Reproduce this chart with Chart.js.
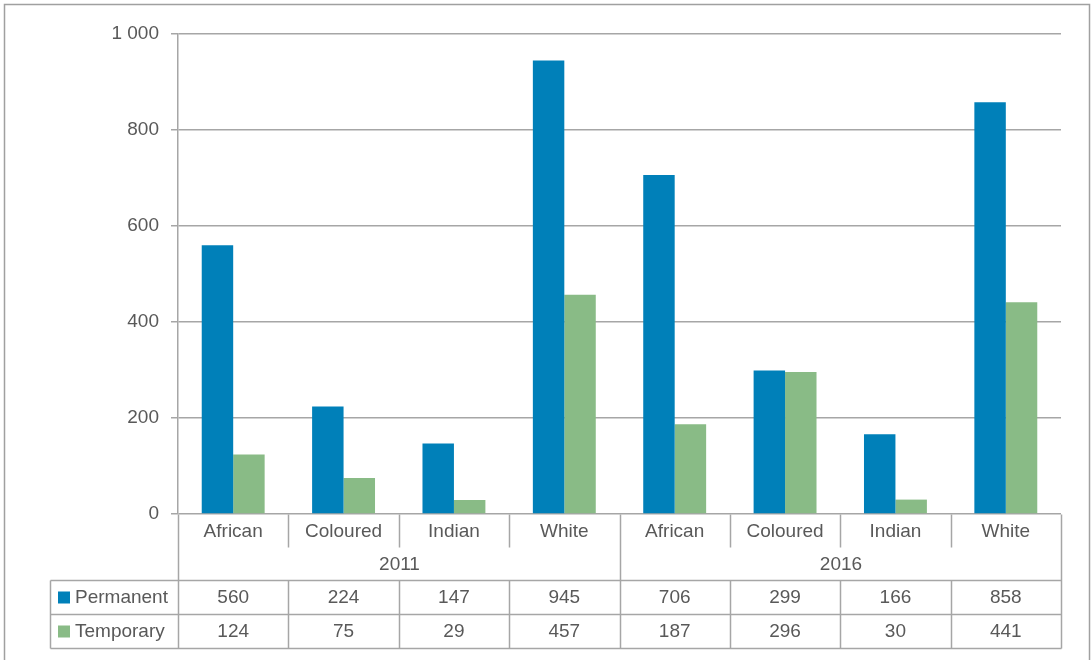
<!DOCTYPE html>
<html>
<head>
<meta charset="utf-8">
<script src="https://cdn.jsdelivr.net/npm/chart.js@4/dist/chart.umd.min.js"></script>
<style>
  body { margin: 0; background: #fff; }
  #chart { display: block; }
</style>
</head>
<body>
<canvas id="chart" width="1092" height="660"></canvas>
<script>
// ================= DATA =================
const races = ["African", "Coloured", "Indian", "White", "African", "Coloured", "Indian", "White"];
const years = ["2011", "2016"];
const permanent = [560, 224, 147, 945, 706, 299, 166, 858];
const temporary = [124, 75, 29, 457, 187, 296, 30, 441];
const yTicks = [0, 200, 400, 600, 800, 1000];

const BLUE = "#0080b9";
const GREEN = "#89bb86";
const TEXT = "#595959";
const LINE = "#a6a6a6";
const FONT = "'Liberation Sans', Arial, sans-serif";

// ================= TABLE PLUGIN =================
const dataTable = {
    id: "dataTable",
    beforeDraw(chart) {
        const ctx = chart.ctx;
        ctx.save();
        ctx.strokeStyle = "#a0a0a0";
        ctx.lineWidth = 1.5;
        ctx.strokeRect(4.5, 4.5, 1085, 700);
        ctx.restore();
    },
    afterDraw(chart) {
        const ctx = chart.ctx;
        const a = chart.chartArea;
        const n = races.length;
        const w = (a.right - a.left) / n;
        const xs = [];
        for (let i = 0; i <= n; i++) xs.push(Math.round(a.left + i * w) + 0.5);

        const y0 = Math.round(a.bottom) + 0.5;
        const rowCat = y0 + 33;
        const rowYear = rowCat + 33;
        const rowP = rowYear + 34;
        const rowT = rowP + 34;
        const tableLeft = 50.5;

        ctx.save();
        ctx.strokeStyle = LINE;
        ctx.lineWidth = 1.5;
        ctx.beginPath();
        // category separators
        for (let i = 0; i <= n; i++) {
            ctx.moveTo(xs[i], y0);
            ctx.lineTo(xs[i], rowCat);
        }
        // year separators
        [0, n / 2, n].forEach(i => {
            ctx.moveTo(xs[i], rowCat);
            ctx.lineTo(xs[i], rowYear);
        });
        // value rows
        [rowYear, rowP, rowT].forEach(y => {
            ctx.moveTo(tableLeft, y);
            ctx.lineTo(xs[n], y);
        });
        ctx.moveTo(tableLeft, rowYear);
        ctx.lineTo(tableLeft, rowT);
        for (let i = 0; i <= n; i++) {
            ctx.moveTo(xs[i], rowYear);
            ctx.lineTo(xs[i], rowT);
        }
        ctx.stroke();

        ctx.fillStyle = TEXT;
        ctx.font = "19px " + FONT;
        ctx.textAlign = "center";
        ctx.textBaseline = "middle";
        for (let i = 0; i < n; i++) {
            const cx = chart.scales.x.getPixelForValue(i);
            ctx.fillText(races[i], cx, y0 + 17);
            ctx.fillText(String(permanent[i]), cx, rowYear + 17);
            ctx.fillText(String(temporary[i]), cx, rowP + 17);
        }
        ctx.fillText(years[0], (xs[0] + xs[n / 2]) / 2, rowCat + 17);
        ctx.fillText(years[1], (xs[n / 2] + xs[n]) / 2, rowCat + 17);

        // legend keys
        ctx.textAlign = "left";
        ctx.fillStyle = BLUE;
        ctx.fillRect(58, rowYear + 11, 12, 12);
        ctx.fillStyle = GREEN;
        ctx.fillRect(58, rowP + 11, 12, 12);
        ctx.fillStyle = TEXT;
        ctx.fillText("Permanent", 75, rowYear + 17);
        ctx.fillText("Temporary", 75, rowP + 17);
        ctx.restore();
    }
};

// ================= CHART =================
new Chart(document.getElementById("chart"), {
    type: "bar",
    data: {
        labels: races,
        datasets: [
            { label: "Permanent", data: permanent, backgroundColor: BLUE, borderWidth: 0 },
            { label: "Temporary", data: temporary, backgroundColor: GREEN, borderWidth: 0 }
        ]
    },
    options: {
        responsive: false,
        animation: false,
        layout: { padding: { left: 0, right: 31, top: 34, bottom: 146 } },
        plugins: {
            legend: { display: false },
            tooltip: { enabled: false }
        },
        datasets: {
            bar: { categoryPercentage: 0.57, barPercentage: 1 }
        },
        scales: {
            x: { display: false },
            y: {
                min: 0,
                max: 1000,
                afterFit(scale) { scale.width = 178; },
                afterBuildTicks(scale) { scale.ticks = yTicks.map(v => ({ value: v })); },
                ticks: {
                    color: TEXT,
                    font: { family: FONT, size: 19 },
                    padding: 12,
                    callback: v => v >= 1000 ? "1 000" : String(v)
                },
                grid: { color: LINE, lineWidth: 1.5, tickLength: 7 },
                border: { color: LINE, width: 1.5 }
            }
        }
    },
    plugins: [dataTable]
});
</script>
</body>
</html>
